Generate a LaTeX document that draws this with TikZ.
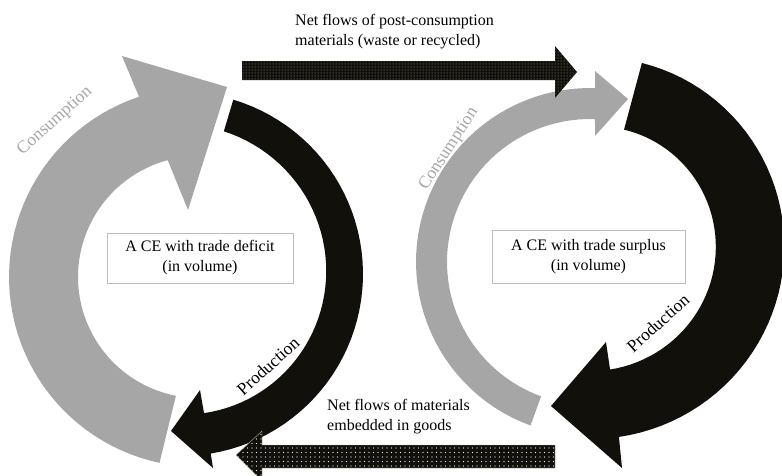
\documentclass[tikz,border=0pt]{standalone}
\usepackage{fontspec}
\setmainfont{Liberation Serif}
\usetikzlibrary{patterns.meta}
\definecolor{consGray}{RGB}{166,166,166}
\definecolor{prodBlack}{RGB}{18,16,11}
\definecolor{boxGray}{RGB}{190,190,190}
\tikzset{
  flowtext/.style={font=\fontsize{16}{20}\selectfont, align=left, anchor=west},
  cebox/.style={draw=boxGray, fill=white, align=center, font=\fontsize{16}{20}\selectfont},
  looplabel/.style={font=\fontsize{17.5}{20}\selectfont}
}

\begin{document}
\begin{tikzpicture}[x=1pt, y=-1pt, every node/.style={inner sep=0pt}]
	\useasboundingbox (0,0) rectangle (782,475);
	% left cycle: consumption (gray) and production (black)
	\fill[consGray] plot[domain=102:251.6, samples=50] ({199+190*cos(\x)},{277+190*sin(\x)})
		-- (122,56) -- (227,87) -- (188,210)
		-- plot[domain=255:101, samples=50] ({199+121*cos(\x)},{277+121*sin(\x)}) -- cycle;
	\fill[prodBlack] plot[domain=-73.3:80.6, samples=50] ({181+182*cos(\x)},{274+182*sin(\x)})
		-- (213,468) -- (171,431) -- (200,390)
		-- plot[domain=80.6:-73.3, samples=50] ({181+(141+8*(80.6-\x)/153.9)*cos(\x)},{274+(141+8*(80.6-\x)/153.9)*sin(\x)}) -- cycle;
	% right cycle
	\fill[consGray] plot[domain=110:271.65, samples=50] ({590+174*cos(\x)},{262+174*sin(\x)})
		-- (595,71) -- (628,99) -- (595,136)
		-- plot[domain=272:110, samples=50] ({590+143*cos(\x)},{262+143*sin(\x)}) -- cycle;
	\fill[prodBlack] plot[domain=-75:82.5, samples=50] ({593.5+(187+8*(\x+75)/157.5)*cos(\x)},{243.6+(187+8*(\x+75)/157.5)*sin(\x)})
		-- (622,468) -- (551,406) -- (606,342)
		-- plot[domain=82.5:-75, samples=50] ({593.5+(127-9*(82.5-\x)/157.5)*cos(\x)},{243.6+(127-9*(82.5-\x)/157.5)*sin(\x)}) -- cycle;
	% trade flows
	\fill[preaction={fill=prodBlack}, pattern={Dots[distance=3pt, radius=0.5pt]}, pattern color=gray!80]
		(242,61) -- (555,61) -- (555,46) -- (577,72) -- (555,98) -- (555,80) -- (242,80) -- cycle;
	\filldraw[draw=gray!60, preaction={fill=prodBlack}, pattern={Dots[distance=4.5pt, radius=0.6pt]}, pattern color=white]
		(555,445) -- (262,445) -- (262,431) -- (236,455) -- (262,481) -- (262,468) -- (555,468) -- cycle;
	% labels
	\node[flowtext] (postcons) at (295,32) {Net flows of post-consumption\\materials (waste or recycled)};
	\node[flowtext] (embedded) at (327,417) {Net flows of materials\\embedded in goods};
	\node[cebox, minimum width=186, minimum height=50] (deficit) at (200,258) {A CE with trade deficit\\(in volume)};
	\node[cebox, minimum width=193, minimum height=53] (surplus) at (588.5,256.5) {A CE with trade surplus\\(in volume)};
	\node[looplabel, text=consGray, rotate=42] (consL) at (55,121) {Consumption};
	\node[looplabel, text=consGray, rotate=57] (consR) at (449,149) {Consumption};
	\node[looplabel, rotate=42] (prodL) at (268,366) {Production};
	\node[looplabel, rotate=42] (prodR) at (658,323) {Production};
\end{tikzpicture}
\end{document}
